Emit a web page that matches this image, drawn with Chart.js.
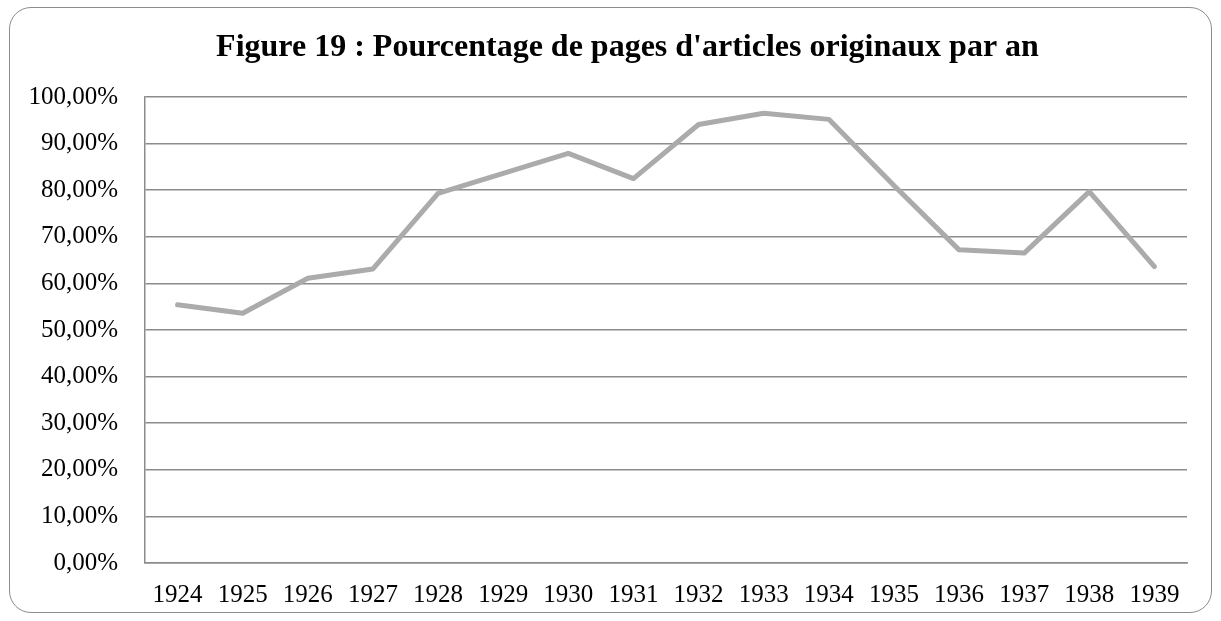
<!DOCTYPE html>
<html><head><meta charset="utf-8">
<script src="https://cdn.jsdelivr.net/npm/chart.js@4/dist/chart.umd.min.js"></script>
<style>
html,body{margin:0;padding:0;background:#fff;}
#frame{position:absolute;left:9px;top:7px;width:1203px;height:606px;border:1.5px solid #8c8c8c;border-radius:22px;box-sizing:border-box;}
#c{position:absolute;left:0;top:0;}
</style></head><body>
<div id="frame"></div>
<canvas id="c" width="1221" height="621"></canvas>
<script>
const titleText = "Figure 19 : Pourcentage de pages d'articles originaux par an";
const years = ["1924","1925","1926","1927","1928","1929","1930","1931","1932","1933","1934","1935","1936","1937","1938","1939"];
const pctOriginal = [55.4, 53.6, 61.1, 63.1, 79.3, 83.6, 87.9, 82.5, 94.1, 96.5, 95.2, 81.0, 67.2, 66.5, 79.7, 63.6];
const yTickLabels = ["0,00%","10,00%","20,00%","30,00%","40,00%","50,00%","60,00%","70,00%","80,00%","90,00%","100,00%"];

const titlePlugin = {
  id: 'customTitle',
  afterDraw(chart) {
    const ctx = chart.ctx;
    ctx.save();
    ctx.font = 'bold 32px "Liberation Serif", "Times New Roman", serif';
    ctx.fillStyle = '#000';
    ctx.textAlign = 'center';
    ctx.textBaseline = 'alphabetic';
    ctx.fillText(titleText, 627.5, 56);
    ctx.restore();
  }
};

new Chart(document.getElementById('c'), {
  type: 'line',
  data: { labels: years, datasets: [{ data: pctOriginal, borderColor: '#ababab', borderWidth: 5, pointRadius: 0, tension: 0, borderCapStyle: 'round', borderJoinStyle: 'round', fill: false }] },
  plugins: [titlePlugin],
  options: {
    responsive: false, animation: false,
    layout: { padding: { left: 0, right: 34, top: 97, bottom: 0 } },
    plugins: { legend: { display: false }, tooltip: { enabled: false }, title: { display: false } },
    scales: {
      x: {
        offset: true,
        grid: { display: false, drawTicks: false },
        border: { display: true, color: '#8c8c8c', width: 1.5 },
        ticks: { color: '#000', font: { family: '"Liberation Serif", serif', size: 25 }, padding: 17, maxRotation: 0, autoSkip: false },
        afterFit: s => { s.height = 58; }
      },
      y: {
        min: 0, max: 100,
        grid: { color: '#8c8c8c', lineWidth: 1.5, drawTicks: false },
        border: { display: true, color: '#8c8c8c', width: 1.5 },
        ticks: { stepSize: 10, color: '#000', font: { family: '"Liberation Serif", serif', size: 25 }, padding: 27, callback: (v) => yTickLabels[Math.round(v / 10)] },
        afterFit: s => { s.width = 145; }
      }
    }
  }
});
</script></body></html>
